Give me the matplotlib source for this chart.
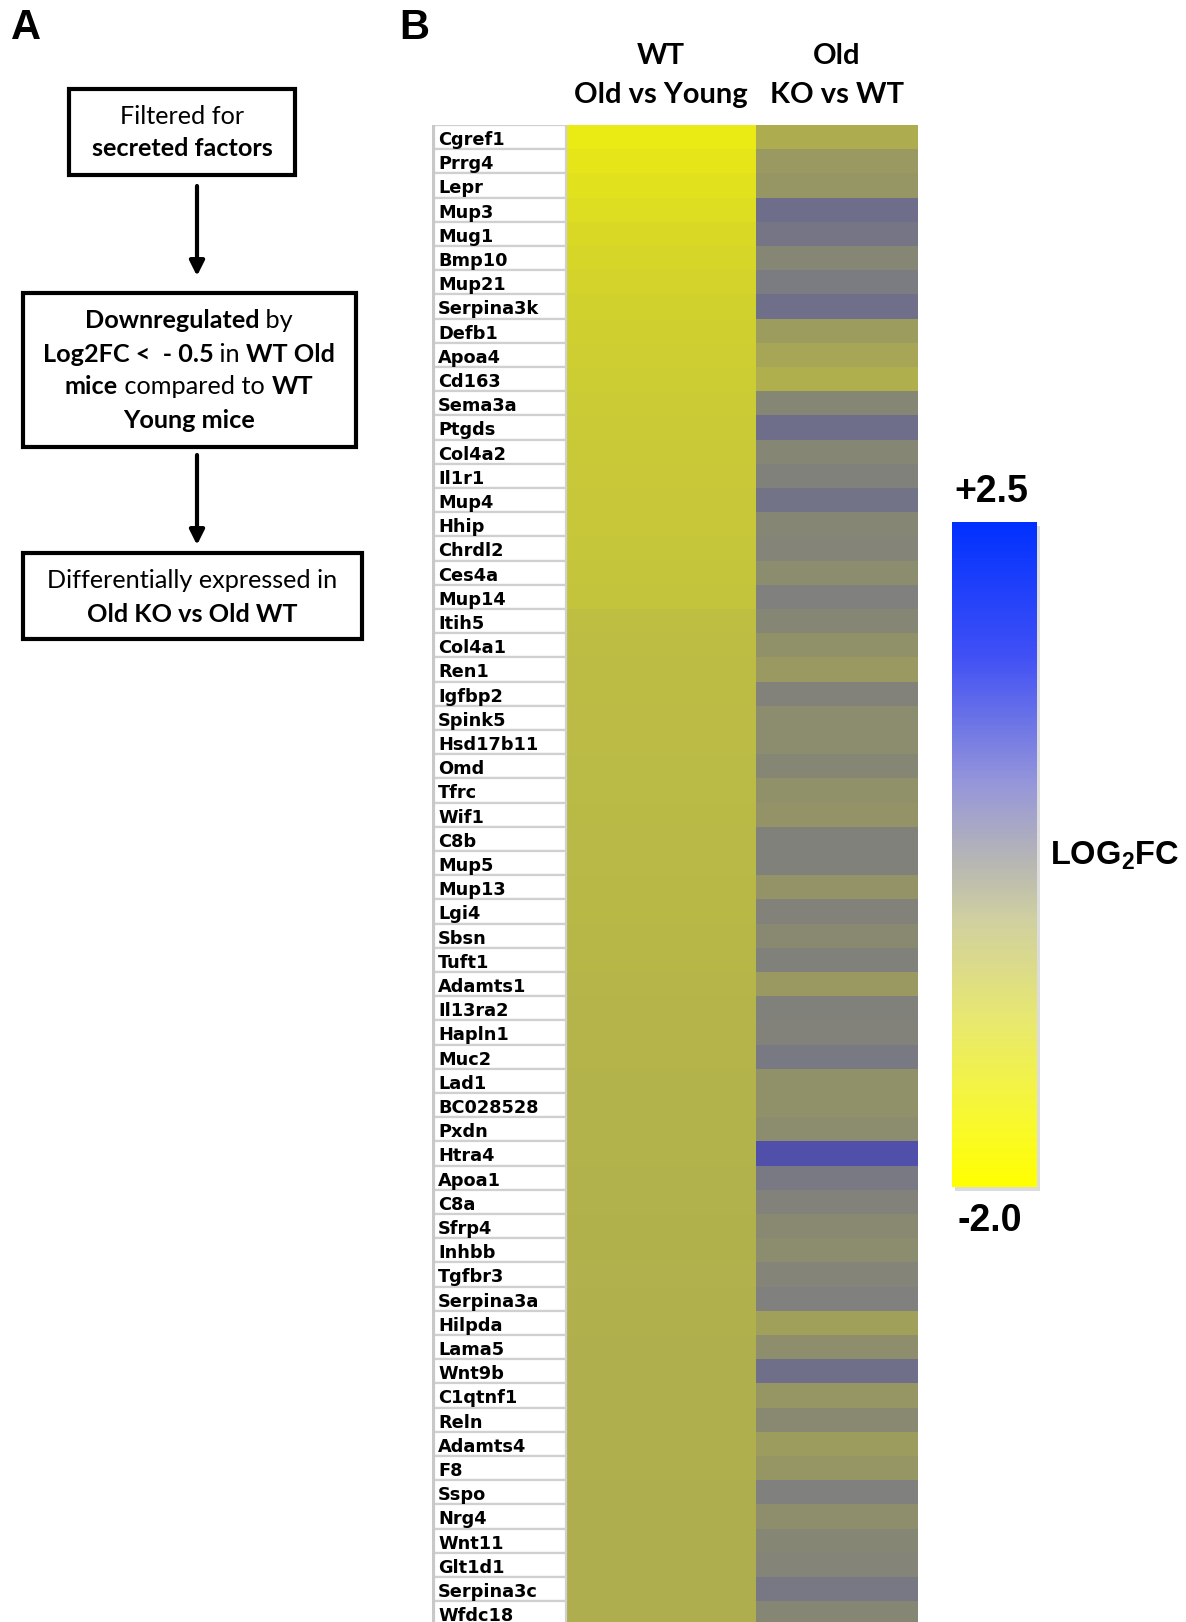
import numpy as np
import matplotlib
matplotlib.use("Agg")
import matplotlib.pyplot as plt
from matplotlib.colors import LinearSegmentedColormap, Normalize
from matplotlib.patches import Rectangle
from matplotlib.cm import ScalarMappable

plt.rcParams['mathtext.fontset'] = 'custom'
plt.rcParams['mathtext.rm'] = 'Liberation Sans:bold'

# ---- data ----
genes = ["Cgref1", "Prrg4", "Lepr", "Mup3", "Mug1", "Bmp10", "Mup21", "Serpina3k",
         "Defb1", "Apoa4", "Cd163", "Sema3a", "Ptgds", "Col4a2", "Il1r1", "Mup4",
         "Hhip", "Chrdl2", "Ces4a", "Mup14", "Itih5", "Col4a1", "Ren1", "Igfbp2",
         "Spink5", "Hsd17b11", "Omd", "Tfrc", "Wif1", "C8b", "Mup5", "Mup13",
         "Lgi4", "Sbsn", "Tuft1", "Adamts1", "Il13ra2", "Hapln1", "Muc2", "Lad1",
         "BC028528", "Pxdn", "Htra4", "Apoa1", "C8a", "Sfrp4", "Inhbb", "Tgfbr3",
         "Serpina3a", "Hilpda", "Lama5", "Wnt9b", "C1qtnf1", "Reln", "Adamts4", "F8",
         "Sspo", "Nrg4", "Wnt11", "Glt1d1", "Serpina3c", "Wfdc18"]

wt_old_vs_young = [-1.95, -1.84, -1.74, -1.65, -1.57, -1.49, -1.43, -1.37, -1.32, -1.28,
                   -1.25, -1.22, -1.19, -1.17, -1.15, -1.13, -1.11, -1.09, -1.07, -1.05,
                   -0.92, -0.90, -0.89, -0.88, -0.87, -0.86, -0.85, -0.84, -0.83, -0.82,
                   -0.81, -0.80, -0.79, -0.78, -0.77, -0.72, -0.71, -0.70, -0.69, -0.68,
                   -0.67, -0.66, -0.65, -0.64, -0.63, -0.62, -0.62, -0.61, -0.58, -0.58,
                   -0.57, -0.57, -0.56, -0.56, -0.55, -0.55, -0.54, -0.54, -0.53, -0.53,
                   -0.52, -0.52]

old_ko_vs_wt = [-0.50, -0.20, -0.15, 0.90, 0.70, 0.15, 0.50, 0.85, -0.25, -0.40,
                -0.55, 0.15, 0.90, 0.15, 0.30, 0.75, 0.15, 0.20, 0.05, 0.35,
                0.15, -0.05, -0.20, 0.25, 0.05, 0.05, 0.15, -0.05, -0.10, 0.30,
                0.30, -0.10, 0.25, 0.10, 0.30, -0.20, 0.30, 0.25, 0.55, -0.05,
                -0.05, 0.05, 1.60, 0.55, 0.25, 0.10, 0.05, 0.20, 0.35, -0.30,
                0.00, 0.85, -0.15, 0.10, -0.25, -0.15, 0.35, 0.00, 0.15, 0.20,
                0.60, 0.15]

col_headers = ["WT\nOld vs Young", "Old\nKO vs WT"]
vmin, vmax = -2.0, 2.5

# colours of the heatmap cells
cell_stops = [(-2.0, '#ECEC12'), (-1.5, '#D6D628'), (-1.2, '#CACA36'), (-1.0, '#C2C23E'),
              (-0.85, '#BABA46'), (-0.7, '#B4B44A'), (-0.5, '#ADAD50'), (-0.25, '#9C9C5E'),
              (0.0, '#8E8E6C'), (0.2, '#848478'), (0.35, '#80807E'), (0.6, '#787884'),
              (0.9, '#6E6E8A'), (1.6, '#5050AA'), (2.5, '#2A2AD8')]
cell_cmap = LinearSegmentedColormap.from_list(
    "cells", [((v - vmin) / (vmax - vmin), c) for v, c in cell_stops])

# colours of the scale bar
bar_cmap = LinearSegmentedColormap.from_list(
    "bar", [(0.0, '#FFFF00'), (0.1, '#F8F830'), (0.25, '#E8E870'), (0.4, '#D0D0A0'),
            (0.48, '#B9B9B2'), (0.6, '#9898D8'), (0.8, '#4050F5'), (1.0, '#0030FF')])

W, H = 1186, 1622
fig = plt.figure(figsize=(W / 100, H / 100), dpi=100)

# overlay axes in pixel units for the flowchart and free text
ax = fig.add_axes([0, 0, 1, 1])
ax.set_xlim(0, W)
ax.set_ylim(H, 0)
ax.axis('off')

FLOW_FONT = 'Lato'
renderer = fig.canvas.get_renderer()


def run_width(s, size, weight):
    # width including spaces: measure between two guard glyphs
    a = ax.text(0, 0, "X" + s + "X", fontsize=size, fontweight=weight, family=FLOW_FONT)
    b = ax.text(0, 0, "XX", fontsize=size, fontweight=weight, family=FLOW_FONT)
    w = a.get_window_extent(renderer).width - b.get_window_extent(renderer).width
    a.remove()
    b.remove()
    return w


def rich_line(cx, y, runs, size=18.2):
    widths = [run_width(s, size, w) for s, w in runs]
    x = cx - sum(widths) / 2
    for (s, w), wd in zip(runs, widths):
        ax.text(x, y, s, fontsize=size, fontweight=w, family=FLOW_FONT,
                ha='left', va='center')
        x += wd


def box(x0, y0, x1, y1):
    ax.add_patch(Rectangle((x0, y0), x1 - x0, y1 - y0, fill=False,
                           edgecolor='black', lw=3, joinstyle='miter'))


def arrow(x, y0, y1):
    ax.annotate("", xy=(x, y1), xytext=(x, y0),
                arrowprops=dict(arrowstyle='-|>', color='black', lw=3,
                                mutation_scale=22, shrinkA=0, shrinkB=0))


# panel letters
ax.text(26, 28, "A", fontsize=30, fontweight='bold', family='Liberation Sans',
        ha='center', va='center')
ax.text(414, 28, "B", fontsize=30, fontweight='bold', family='Liberation Sans',
        ha='center', va='center')

# flowchart
box(69, 89, 295, 175)
rich_line(182, 116, [("Filtered for", 'normal')])
rich_line(182, 149, [("secreted factors", 'bold')])
arrow(197, 186, 276)

box(23, 293, 356, 447)
rich_line(189, 321, [("Downregulated", 'bold'), (" by", 'normal')])
rich_line(189, 354, [("Log2FC <  - 0.5", 'bold'), (" in ", 'normal'), ("WT Old", 'bold')])
rich_line(189, 387, [("mice", 'bold'), (" compared to ", 'normal'), ("WT", 'bold')])
rich_line(189, 420, [("Young mice", 'bold')])
arrow(197, 455, 545)

box(23, 553, 362, 639)
rich_line(192, 581, [("Differentially expressed in", 'normal')])
rich_line(192, 614, [("Old KO vs Old WT", 'bold')])

# heatmap table
n = len(genes)
row_h = 24.2
top = 125
lab_w, wt_w, ko_w = 134, 190, 162
tab_w = lab_w + wt_w + ko_w
hm = fig.add_axes([432 / W, 1 - (top + n * row_h) / H, tab_w / W, n * row_h / H])
hm.set_xlim(0, tab_w)
hm.set_ylim(n, 0)
hm.axis('off')

values = np.column_stack([wt_old_vs_young, old_ko_vs_wt])
x_edges = [lab_w, lab_w + wt_w, tab_w]
y_edges = np.arange(n + 1)
hm.pcolormesh(x_edges, y_edges, values, cmap=cell_cmap,
              norm=Normalize(vmin, vmax), shading='flat')

for i, g in enumerate(genes):
    hm.add_patch(Rectangle((0, i), lab_w, 1, facecolor='white',
                           edgecolor='#D0D0D0', lw=1.6))
    hm.text(6, i + 0.62, g, fontsize=12.8, fontweight='bold', family='DejaVu Sans',
            ha='left', va='center')
hm.axvline(1, color='#C8C8C8', lw=3)

for j, h in enumerate(col_headers):
    cx = 432 + (x_edges[j] + x_edges[j + 1]) / 2
    l1, l2 = h.split("\n")
    ax.text(cx, 56, l1, fontsize=21, fontweight='bold', family=FLOW_FONT,
            ha='center', va='center')
    ax.text(cx, 95, l2, fontsize=21, fontweight='bold', family=FLOW_FONT,
            ha='center', va='center')

# colour scale
cb_x0, cb_x1, cb_y0, cb_y1 = 952, 1037, 522, 1187
ax.add_patch(Rectangle((cb_x0 + 3, cb_y0 + 4), cb_x1 - cb_x0, cb_y1 - cb_y0,
                       facecolor='#BBBBBB', edgecolor='none', alpha=0.5))
cax = fig.add_axes([cb_x0 / W, 1 - cb_y1 / H, (cb_x1 - cb_x0) / W, (cb_y1 - cb_y0) / H])
cb = fig.colorbar(ScalarMappable(norm=Normalize(vmin, vmax), cmap=bar_cmap), cax=cax)
cb.outline.set_visible(False)
cb.set_ticks([])

ax.text(991, 492, "+%.1f" % vmax, fontsize=27, fontweight='bold',
        family='Liberation Sans', ha='center', va='center')
ax.text(990, 1221, "%.1f" % vmin, fontsize=27, fontweight='bold',
        family='Liberation Sans', ha='center', va='center')
ax.text(1050, 856, r"LOG$_\mathregular{2}$FC", fontsize=23.5, fontweight='bold',
        family='Liberation Sans', ha='left', va='center')

fig.savefig("out.png", dpi=100)
